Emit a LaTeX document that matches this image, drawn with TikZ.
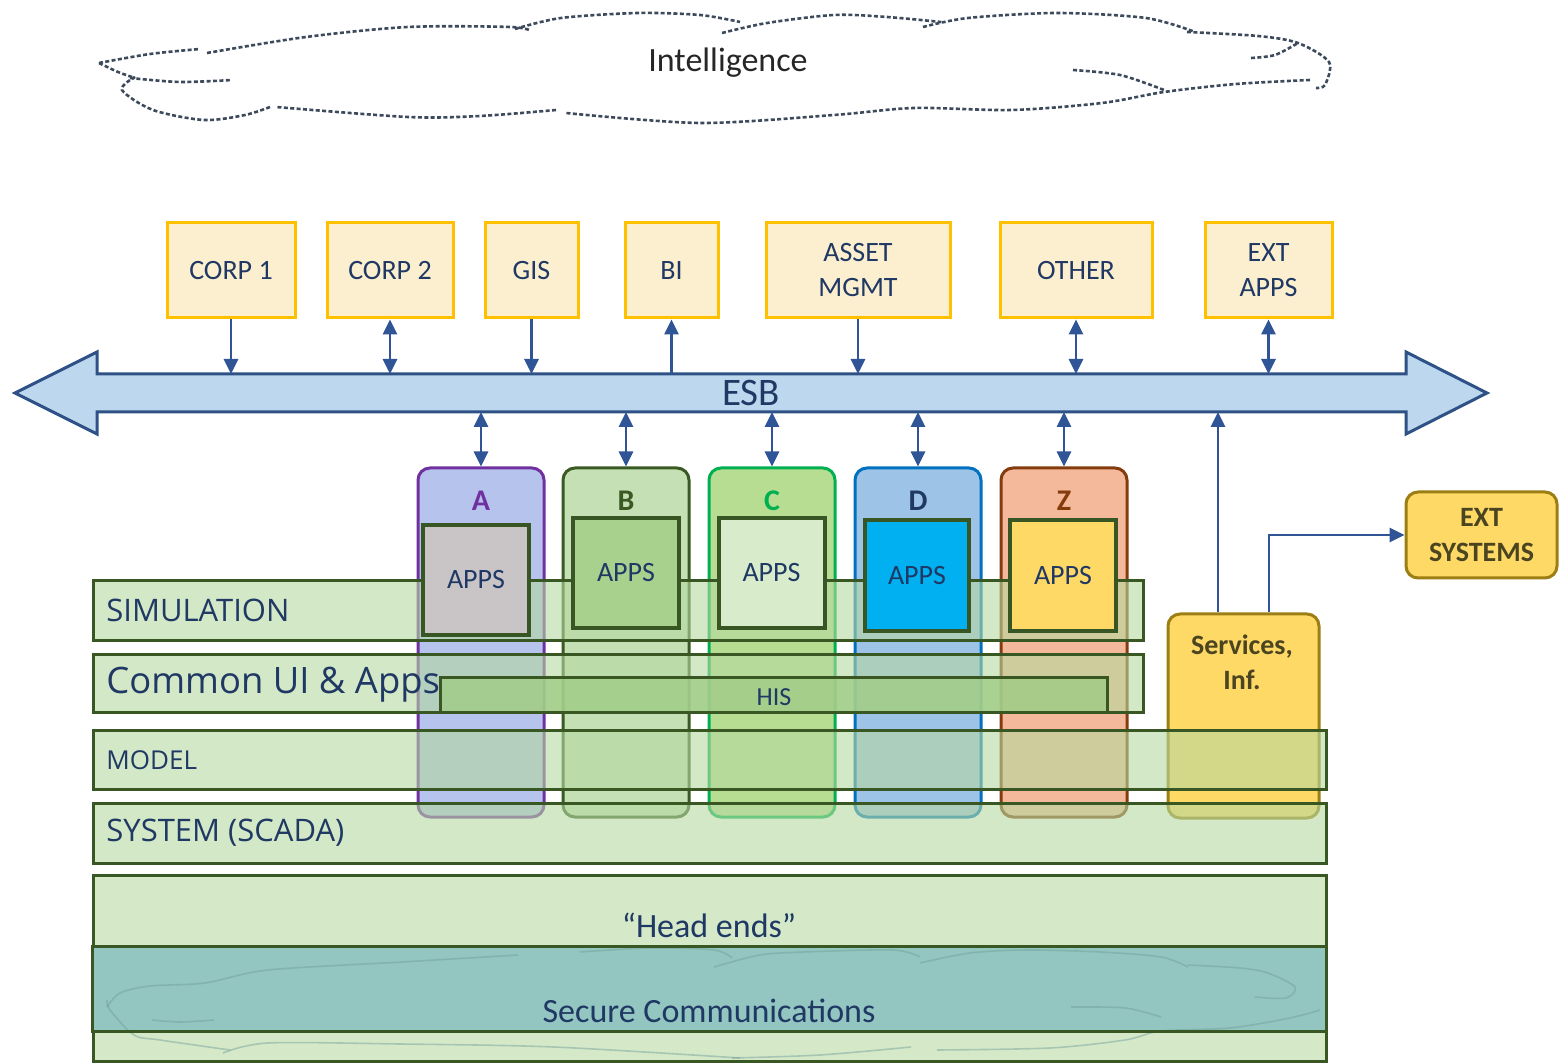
\documentclass[tikz,border=0pt]{standalone}
\usepackage{fontspec}
\setmainfont{Carlito}
\newfontfamily\osans{Open Sans}
\usetikzlibrary{arrows.meta}
\definecolor{navy}{HTML}{1F3864}
\definecolor{boxfill}{HTML}{FCEFCF}
\definecolor{boxborder}{HTML}{FFC000}
\definecolor{esbfill}{HTML}{BDD7EE}
\definecolor{esbdraw}{HTML}{2E5186}
\definecolor{arrowblue}{HTML}{2F5597}
\definecolor{cloudgray}{HTML}{3D4A5C}
\definecolor{layerfill}{HTML}{B5D8A0}
\definecolor{layerdraw}{HTML}{385723}
\definecolor{hisfill}{HTML}{A0CC86}
\definecolor{colAfill}{HTML}{B6C3EC}
\definecolor{colAdraw}{HTML}{7030A0}
\definecolor{colBfill}{HTML}{C5E0B4}
\definecolor{colBdraw}{HTML}{3A5A24}
\definecolor{colCfill}{HTML}{B6DD92}
\definecolor{colCdraw}{HTML}{00B050}
\definecolor{colDfill}{HTML}{9DC3E6}
\definecolor{colDdraw}{HTML}{0070C0}
\definecolor{colZfill}{HTML}{F4B89A}
\definecolor{colZdraw}{HTML}{843C0C}
\definecolor{appsA}{HTML}{C9C5C6}
\definecolor{appsB}{HTML}{A9D18E}
\definecolor{appsC}{HTML}{D8EBCB}
\definecolor{appsD}{HTML}{00B0F0}
\definecolor{appsZ}{HTML}{FFD966}
\definecolor{appsdraw}{HTML}{375623}
\definecolor{goldfill}{HTML}{FFD966}
\definecolor{golddraw}{HTML}{9C7E12}
\definecolor{goldtext}{HTML}{4A4420}
\definecolor{headfill}{HTML}{D5E8C8}
\definecolor{securefill}{HTML}{93C6C0}
\definecolor{securecloud}{HTML}{6E9E9A}
\begin{document}
\begin{tikzpicture}[x=0.5pt,y=-0.5pt,
  topbox/.style={draw=boxborder, fill=boxfill, line width=1.5pt, inner sep=0pt,
    minimum height=47.5pt, align=center, text=navy,
    font=\fontsize{14}{17.5}\selectfont},
  arr/.style={draw=arrowblue, line width=1.4pt, -{Triangle[length=7.5pt,width=7pt]}},
  darr/.style={draw=arrowblue, line width=1.4pt,
    {Triangle[length=7.5pt,width=7pt]}-{Triangle[length=7.5pt,width=7pt]}},
  colbox/.style={rounded corners=6pt, line width=1.5pt, inner sep=0pt,
    minimum width=63pt, minimum height=174.5pt},
  appsbox/.style={draw=appsdraw, line width=2pt, inner sep=0pt,
    minimum width=53pt, minimum height=55pt, text=navy,
    font=\fontsize{14}{17}\selectfont},
  layer/.style={draw=layerdraw, line width=1.5pt, fill=layerfill, fill opacity=0.6,
    draw opacity=1, inner sep=0pt},
  layertext/.style={anchor=west, text=navy, inner sep=0pt},
  goldbox/.style={draw=golddraw, fill=goldfill, line width=1.5pt, rounded corners=6pt,
    inner sep=0pt},
  goldtxt/.style={text=goldtext, align=center, font=\bfseries\fontsize{14}{17.5}\selectfont},
  collabel/.style={font=\bfseries\fontsize{15}{18}\selectfont},
  cloudline/.style={draw=cloudgray, line width=1.3pt, dash pattern=on 2pt off 1.2pt},
  seccloud/.style={draw=securecloud, line width=0.8pt, draw opacity=0.45}
]
\useasboundingbox (0,0) rectangle (1559,1063);

% ---------- Intelligence cloud ----------
\draw[cloudline] plot[smooth] coordinates {(99,63) (150,54) (200,49)};
\draw[cloudline] plot[smooth] coordinates {(207,53) (306,37) (408,27) (510,27) (531,31)};
\draw[cloudline] plot[smooth] coordinates {(515,29) (561,18) (638,13) (700,15) (740,22)};
\draw[cloudline] plot[smooth] coordinates {(722,33) (767,23) (834,15) (887,17) (941,22)};
\draw[cloudline] plot[smooth] coordinates {(923,27) (968,18) (1057,13) (1146,18) (1195,32)};
\draw[cloudline] plot[smooth] coordinates {(1187,32) (1258,36) (1298,43) (1329,62) (1325,85) (1316,88)};
\draw[cloudline] plot[smooth] coordinates {(1310,80) (1236,84) (1164,92) (1102,103) (1012,110) (914,108) (834,115) (700,123) (566,113)};
\draw[cloudline] plot[smooth] coordinates {(556,110) (480,116) (408,117) (276,107)};
\draw[cloudline] plot[smooth] coordinates {(270,107) (245,115) (204,120) (153,110) (122,90) (135,77)};
\draw[cloudline] plot[smooth] coordinates {(99,63) (118,72) (135,78)};
\draw[cloudline] plot[smooth] coordinates {(130,78) (180,82) (232,80)};
\draw[cloudline] plot[smooth] coordinates {(1073,70) (1120,75) (1164,90)};
\draw[cloudline] plot[smooth] coordinates {(1251,58) (1275,55) (1298,43)};
\node[font=\fontsize{17}{20}\selectfont, text=black!85] (intel) at (728,63) {Intelligence};

% ---------- top boxes ----------
\node[topbox, minimum width=64pt]   (corp1) at (231,270.5)   {CORP 1};
\node[topbox, minimum width=63pt]   (corp2) at (390,270.5)   {CORP 2};
\node[topbox, minimum width=46.5pt] (gis)   at (531.5,270.5) {GIS};
\node[topbox, minimum width=46.5pt] (bi)    at (671.5,270.5) {BI};
\node[topbox, minimum width=92pt]   (asset) at (858,270.5)   {ASSET\\MGMT};
\node[topbox, minimum width=76pt]   (other) at (1076,270.5)  {OTHER};
\node[topbox, minimum width=63.5pt] (extapps) at (1268.5,270.5) {EXT\\APPS};

% ---------- ESB ----------
\draw[draw=esbdraw, fill=esbfill, line width=1.5pt, line join=miter]
  (15,393) -- (97,352) -- (97,374) -- (1406,374) -- (1406,352) -- (1487,393)
  -- (1406,434) -- (1406,412) -- (97,412) -- (97,434) -- cycle;
\node[font=\fontsize{19.5}{22}\selectfont, text=navy] (esb) at (751,393) {ESB};
\coordinate (esbT) at (0,374);
\coordinate (esbB) at (0,412);

\draw[arr]  (corp1.south) -- (corp1.south |- esbT);
\draw[darr] (corp2.south) -- (corp2.south |- esbT);
\draw[arr]  (gis.south) -- (gis.south |- esbT);
\draw[arr]  (bi.south |- esbT) -- (bi.south);
\draw[arr]  (asset.south) -- (asset.south |- esbT);
\draw[darr] (other.south) -- (other.south |- esbT);
\draw[darr] (extapps.south) -- (extapps.south |- esbT);

% ---------- columns ----------
\node[colbox, draw=colAdraw, fill=colAfill] (colA) at (481,642.5) {};
\node[colbox, draw=colBdraw, fill=colBfill] (colB) at (626,642.5) {};
\node[colbox, draw=colCdraw, fill=colCfill] (colC) at (772,642.5) {};
\node[colbox, draw=colDdraw, fill=colDfill] (colD) at (918,642.5) {};
\node[colbox, draw=colZdraw, fill=colZfill] (colZ) at (1064,642.5) {};

\draw[darr] (colA.north) -- (colA.north |- esbB);
\draw[darr] (colB.north) -- (colB.north |- esbB);
\draw[darr] (colC.north) -- (colC.north |- esbB);
\draw[darr] (colD.north) -- (colD.north |- esbB);
\draw[darr] (colZ.north) -- (colZ.north |- esbB);

% ---------- services / ext systems ----------
\node[goldbox, minimum width=75.5pt, minimum height=102pt] (svc) at (1243.5,716) {};
\node[goldtxt] (svcT) at (1242,662) {Services,\\Inf.};
\node[goldbox, minimum width=75.5pt, minimum height=43pt, goldtxt] (extsys) at (1481.5,535) {EXT\\SYSTEMS};
\draw[arr] ([xshift=-12.75pt]svc.north) -- ([xshift=-12.75pt]svc.north |- esbB);
\draw[arr] ([xshift=12.75pt]svc.north) |- (extsys.west);

% ---------- layers ----------
\node[layer, minimum width=525pt, minimum height=30pt] (sim) at (618,611) {};
\node[layer, minimum width=525pt, minimum height=29pt] (cui) at (618,684) {};
\node[layer, fill=hisfill, fill opacity=0.8, minimum width=333.5pt, minimum height=17.5pt] (his) at (773.5,695.5) {};
\node[layer, minimum width=616.5pt, minimum height=29.5pt] (model) at (709.5,760.5) {};
\node[layer, minimum width=616.5pt, minimum height=30pt] (system) at (709.5,833) {};

% ---------- APPS ----------
\node[appsbox, fill=appsA] (appA) at (476,580)   {APPS};
\node[appsbox, fill=appsB] (appB) at (626,573)   {APPS};
\node[appsbox, fill=appsC] (appC) at (771.5,573) {APPS};
\node[appsbox, fill=appsD, minimum width=52pt, minimum height=55.5pt] (appD) at (917,575.5) {APPS};
\node[appsbox, fill=appsZ, minimum height=55.5pt] (appZ) at (1063,575.5) {APPS};

\node[collabel, text=colAdraw] (labA) at (481,501) {A};
\node[collabel, text=colBdraw] (labB) at (626,501) {B};
\node[collabel, text=colCdraw] (labC) at (772,501) {C};
\node[collabel, text=navy]     (labD) at (918,501) {D};
\node[collabel, text=colZdraw] (labZ) at (1064,501) {Z};

\node[layertext, font=\osans\fontsize{15.5}{18}\selectfont] (simT) at (106,610) {SIMULATION};
\node[layertext, font=\osans\fontsize{18.2}{21}\selectfont] (cuiT) at (106,685) {Common UI \& Apps};
\node[text=navy, font=\fontsize{13}{15}\selectfont] (hisT) at (774,697) {HIS};
\node[layertext, font=\osans\fontsize{13}{15}\selectfont] (modelT) at (106,760) {MODEL};
\node[layertext, font=\osans\fontsize{15.5}{18}\selectfont] (systemT) at (106,833) {SYSTEM (SCADA)};

% ---------- head ends / secure communications ----------
\node[draw=layerdraw, fill=headfill, line width=1.5pt, inner sep=0pt,
  minimum width=616.5pt, minimum height=93pt] (head) at (709.5,968) {};
\node[fill=securefill, inner sep=0pt,
  minimum width=616.5pt, minimum height=42pt] (secure) at (709.5,989) {};
\begin{scope}
\clip (94,948) rectangle (1325,1060);
\draw[seccloud] plot[smooth] coordinates {(107,1007) (120,993) (150,986) (205,983) (268,970) (402,962) (518,955)};
\draw[seccloud] plot[smooth] coordinates {(580,952) (650,948) (714,950) (732,958)};
\draw[seccloud] plot[smooth] coordinates {(714,967) (760,955) (804,952) (893,950) (920,957)};
\draw[seccloud] plot[smooth] coordinates {(920,963) (970,953) (1027,950) (1100,952) (1161,957) (1188,967)};
\draw[seccloud] plot[smooth] coordinates {(1188,965) (1240,968) (1268,973) (1295,987) (1286,998) (1255,997)};
\draw[seccloud] plot[smooth] coordinates {(1071,1007) (1125,1008) (1161,1017)};
\draw[seccloud] plot[smooth] coordinates {(1320,1010) (1290,1018) (1230,1028) (1161,1031) (1125,1040) (1050,1048) (937,1050)};
\draw[seccloud] plot[smooth] coordinates {(911,1047) (820,1055) (732,1058)};
\draw[seccloud] plot[smooth] coordinates {(740,1058) (554,1047) (400,1044) (268,1043) (223,1053)};
\draw[seccloud] plot[smooth] coordinates {(230,1050) (160,1040) (134,1035) (110,1010) (107,1000)};
\draw[seccloud] plot[smooth] coordinates {(152,1020) (180,1022) (214,1020)};
\end{scope}
\draw[draw=layerdraw, line width=1.5pt] (secure.north west) rectangle (secure.south east);
\node[text=navy, font=\fontsize{17}{20}\selectfont] (headT) at (709,925) {“Head ends”};
\node[text=navy, font=\fontsize{17}{20}\selectfont] (secureT) at (709,1011) {Secure Communications};
\end{tikzpicture}
\end{document}
